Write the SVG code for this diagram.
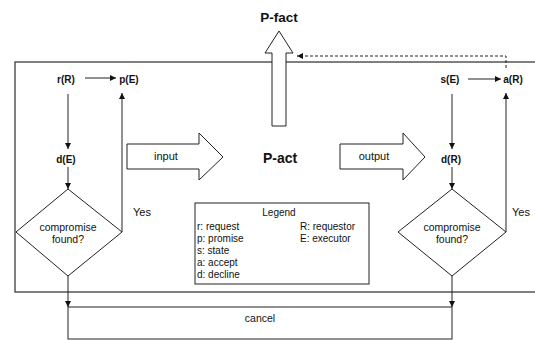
<svg xmlns="http://www.w3.org/2000/svg" width="535" height="340" viewBox="0 0 535 340">
<defs>
<style>
.ln{stroke:#222;stroke-width:1;fill:none}
.frame{stroke:#555;stroke-width:1.5;fill:none}
.shape{stroke:#222;stroke-width:1;fill:#fff}
.b{font-family:"Liberation Sans",Arial,sans-serif;font-weight:bold;font-size:10px;fill:#111;text-anchor:middle}
.t{font-family:"Liberation Sans",Arial,sans-serif;font-size:10.5px;fill:#111;text-anchor:middle}
.lg{font-family:"Liberation Sans",Arial,sans-serif;font-size:10px;fill:#111}
</style>
<marker id="ah" viewBox="0 0 8 8" refX="8" refY="4" markerWidth="6" markerHeight="6" markerUnits="userSpaceOnUse" orient="auto">
<path d="M0,0 L8,4 L0,8 z" fill="#111"/>
</marker>
</defs>
<rect width="535" height="340" fill="#fff"/>
<g id="frame"><rect class="frame" x="15" y="62" width="530" height="230"/></g>

<g id="pfact">
<polygon class="shape" points="272,126 272,53 265,53 279,31 293,53 286,53 286,126"/>
<text class="b" x="279" y="22" style="font-size:13.5px">P-fact</text>
</g>
<g id="pact"><text class="b" x="280" y="163" style="font-size:14px">P-act</text></g>
<g id="input">
<polygon class="shape" points="127,144 199,144 199,133 223,157 199,180 199,169 127,169"/>
<text class="t" x="166" y="160" style="font-size:11px">input</text>
</g>
<g id="output">
<polygon class="shape" points="340,144 403,144 403,133 425,157 403,180 403,169 340,169"/>
<text class="t" x="374" y="160" style="font-size:11px">output</text>
</g>

<g id="rR"><text class="b" x="66" y="83">r(R)</text></g>
<g id="pE"><text class="b" x="129" y="83">p(E)</text></g>
<g id="dE"><text class="b" x="66" y="163">d(E)</text></g>
<g id="sE"><text class="b" x="450" y="83">s(E)</text></g>
<g id="aR"><text class="b" x="513" y="83">a(R)</text></g>
<g id="dR"><text class="b" x="451" y="163">d(R)</text></g>

<g id="decisionL">
<polygon class="shape" points="68,189 122,232 68,276 16,232"/>
<text class="t" x="68" y="231">compromise</text>
<text class="t" x="68" y="243">found?</text>
</g>
<g id="decisionR">
<polygon class="shape" points="452,189 506,232 452,276 398,232"/>
<text class="t" x="452" y="231">compromise</text>
<text class="t" x="452" y="243">found?</text>
</g>

<g id="cancel">
<rect class="ln" x="68" y="307" width="384" height="32"/>
<text class="t" x="260" y="322">cancel</text>
</g>

<g id="legend">
<rect class="shape" x="195" y="203" width="174" height="81"/>
<text class="lg" x="279" y="216" text-anchor="middle">Legend</text>
<text class="lg" x="197" y="230">r: request</text>
<text class="lg" x="197" y="242">p: promise</text>
<text class="lg" x="197" y="254">s: state</text>
<text class="lg" x="197" y="266">a: accept</text>
<text class="lg" x="197" y="278">d: decline</text>
<text class="lg" x="300" y="230">R: requestor</text>
<text class="lg" x="300" y="242">E: executor</text>
</g>

<g id="labels">
<text class="t" x="142" y="216" style="font-size:11px">Yes</text>
<text class="t" x="521" y="216" style="font-size:11px">Yes</text>
</g>

<g id="connectors">
<line class="ln" x1="85" y1="78" x2="116" y2="78" marker-end="url(#ah)"/>
<line class="ln" x1="68" y1="94" x2="68" y2="149" marker-end="url(#ah)"/>
<line class="ln" x1="68" y1="167" x2="68" y2="189" marker-end="url(#ah)"/>
<line class="ln" x1="122" y1="232" x2="122" y2="93" marker-end="url(#ah)"/>
<line class="ln" x1="68" y1="276" x2="68" y2="307" marker-end="url(#ah)"/>
<line class="ln" x1="468" y1="79" x2="501" y2="79" marker-end="url(#ah)"/>
<line class="ln" x1="452" y1="94" x2="452" y2="149" marker-end="url(#ah)"/>
<line class="ln" x1="452" y1="167" x2="452" y2="189" marker-end="url(#ah)"/>
<line class="ln" x1="506" y1="232" x2="506" y2="93" marker-end="url(#ah)"/>
<line class="ln" x1="452" y1="276" x2="452" y2="307" marker-end="url(#ah)"/>
<path class="ln" d="M506,68 V56 H297" stroke-dasharray="3,2" marker-end="url(#ah)"/>
</g>
</svg>
